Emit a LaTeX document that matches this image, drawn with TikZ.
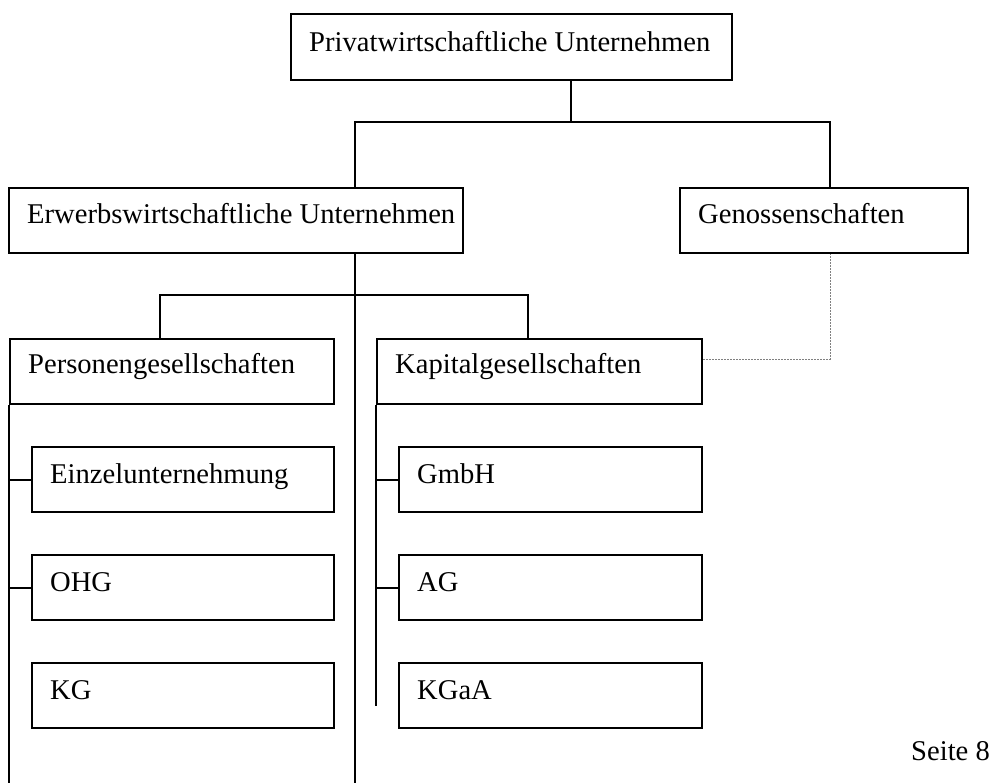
\documentclass[tikz,border=0pt]{standalone}
\usepackage{fontspec}
\setmainfont{Liberation Serif}
\begin{document}
% one box: name, x, y (top left), width, height, caption; optional baseline offset
\newcommand\orgunit[7][37]{%
  \node[orgbox, minimum width=#5pt, minimum height=#6pt] (#2) at (#3,#4) {};
  \node[lbl] (#2-t) at (#3+19,#4+#1) {#7};}
\begin{tikzpicture}[x=1pt,y=-1pt,
  orgbox/.style={draw, line width=2pt, rectangle, anchor=north west, inner sep=0pt},
  lbl/.style={anchor=base west, inner sep=0pt, font=\fontsize{28.6}{34}\selectfont},
  link/.style={line width=2pt},
  dotlink/.style={line width=1pt, gray, dash pattern=on 1.5pt off 1.5pt}]
\useasboundingbox (0,0) rectangle (990,783);

% boxes
\orgunit[39]{top}{290}{13}{441}{66}{Privatwirtschaftliche Unternehmen}
\orgunit{erw}{8}{187}{454}{65}{Erwerbswirtschaftliche Unternehmen}
\orgunit{gen}{679}{187}{288}{65}{Genossenschaften}
\orgunit[35]{pers}{9}{338}{324}{65}{Personengesellschaften}
\orgunit[35]{kap}{376}{338}{325}{65}{Kapitalgesellschaften}
\orgunit{einz}{31}{446}{302}{65}{Einzelunternehmung}
\orgunit{ohg}{31}{554}{302}{65}{OHG}
\orgunit{kg}{31}{662}{302}{65}{KG}
\orgunit{gmbh}{398}{446}{303}{65}{GmbH}
\orgunit{ag}{398}{554}{303}{65}{AG}
\orgunit{kgaa}{398}{662}{303}{65}{KGaA}

\node[lbl] (page) at (911,760) {Seite 8};

% junction points
\coordinate (jA) at (571,122);
\coordinate (jA1) at (355,122);
\coordinate (jA2) at (830,122);
\coordinate (spine) at (355,783);
\coordinate (jB1) at (160,295);
\coordinate (jB2) at (528,295);
\coordinate (lend) at (9,783);
\coordinate (rend) at (376,706);
\coordinate (dc) at (830,359);

% first level
\draw[link] (jA |- top.south) -- (jA);
\draw[link] (jA1 |- erw.north) -- (jA1) -- (jA2) -- (jA2 |- gen.north);

% second level
\draw[link] (spine |- erw.south) -- (spine);
\draw[link] (jB1 |- pers.north) -- (jB1) -- (jB2) -- (jB2 |- kap.north);

% left column
\draw[link] (pers.south west) -- (lend);
\draw[link] (pers.south west |- einz.west) -- (einz.west);
\draw[link] (pers.south west |- ohg.west) -- (ohg.west);

% right column
\draw[link] (kap.south west) -- (rend);
\draw[link] (kap.south west |- gmbh.west) -- (gmbh.west);
\draw[link] (kap.south west |- ag.west) -- (ag.west);

% dotted link between Kapitalgesellschaften and Genossenschaften
\draw[dotlink] (kap.east |- dc) -- (dc) -- (dc |- gen.south);
\end{tikzpicture}
\end{document}
